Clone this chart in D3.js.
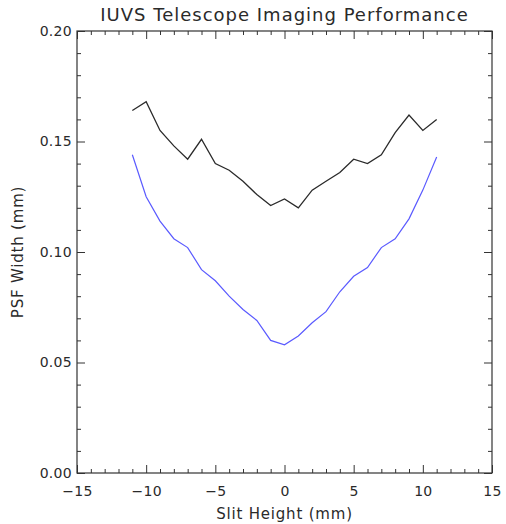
<!DOCTYPE html>
<html><head><meta charset="utf-8">
<script src="https://cdn.jsdelivr.net/npm/d3@7"></script>
<style>body{margin:0;background:#fff}svg{display:block}</style>
</head><body>
<script>
const slitHeight = [-11,-10,-9,-8,-7,-6,-5,-4,-3,-2,-1,0,1,2,3,4,5,6,7,8,9,10,11];
const blackSeries = [0.164,0.168,0.155,0.148,0.142,0.151,0.140,0.137,0.132,0.126,0.121,0.124,0.120,0.128,0.132,0.136,0.142,0.140,0.144,0.154,0.162,0.155,0.160];
const blueSeries = [0.144,0.125,0.114,0.106,0.102,0.092,0.087,0.080,0.074,0.069,0.060,0.058,0.062,0.068,0.073,0.082,0.089,0.093,0.102,0.106,0.115,0.128,0.143];
const xTicks = [-15,-10,-5,0,5,10,15];
const yTicks = [0.00,0.05,0.10,0.15,0.20];

const W=506,H=524;
const m={l:77,r:14,t:31,b:51};
const svg=d3.select("body").append("svg").attr("width",W).attr("height",H);
const x=d3.scaleLinear().domain([-15,15]).range([m.l,W-m.r]);
const y=d3.scaleLinear().domain([0,0.20]).range([H-m.b,m.t]);
const axisColor="#333";
const font="DejaVu Sans, sans-serif";
const textColor="#2a2a2a";

const g=svg.append("g");
const xMinor=d3.range(-15,16,1).filter(v=>v%5!==0);
const yMinor=d3.range(0,21,1).filter(v=>v%5!==0).map(v=>v/100);
function drawAxis(axis, translate){
  const a=g.append("g").attr("transform",translate).call(axis);
  a.select(".domain").remove();
  a.selectAll("line").attr("stroke",axisColor);
  return a;
}
// bottom
drawAxis(d3.axisBottom(x).tickValues(xTicks).tickSize(-8).tickFormat(d=>d<0?"\u2212"+Math.abs(d):d).tickPadding(13),`translate(0,${y(0)})`)
  .selectAll("text").attr("font-family",font).attr("font-size",14).attr("fill",textColor).attr("letter-spacing",0.3);
drawAxis(d3.axisBottom(x).tickValues(xMinor).tickSize(-4).tickFormat(""),`translate(0,${y(0)})`);
// top
drawAxis(d3.axisTop(x).tickValues(xTicks).tickSize(-8).tickFormat(""),`translate(0,${y(0.2)})`);
drawAxis(d3.axisTop(x).tickValues(xMinor).tickSize(-4).tickFormat(""),`translate(0,${y(0.2)})`);
// left
drawAxis(d3.axisLeft(y).tickValues(yTicks).tickSize(-8).tickFormat(d3.format(".2f")).tickPadding(5),`translate(${x(-15)},0)`)
  .selectAll("text").attr("font-family",font).attr("font-size",14).attr("fill",textColor).attr("letter-spacing",0.3);
drawAxis(d3.axisLeft(y).tickValues(yMinor).tickSize(-4).tickFormat(""),`translate(${x(-15)},0)`);
// right
drawAxis(d3.axisRight(y).tickValues(yTicks).tickSize(-8).tickFormat(""),`translate(${x(15)},0)`);
drawAxis(d3.axisRight(y).tickValues(yMinor).tickSize(-4).tickFormat(""),`translate(${x(15)},0)`);

// frame
g.append("rect").attr("x",x(-15)).attr("y",y(0.2)).attr("width",x(15)-x(-15)).attr("height",y(0)-y(0.2))
  .attr("fill","none").attr("stroke",axisColor).attr("stroke-width",1.2);

const line=d3.line().x((d,i)=>x(slitHeight[i])).y(d=>y(d));
svg.append("path").datum(blackSeries).attr("d",line).attr("fill","none").attr("stroke","#2a2a2a").attr("stroke-width",1.3);
svg.append("path").datum(blueSeries).attr("d",line).attr("fill","none").attr("stroke","#5a5aff").attr("stroke-width",1.2);

svg.append("text").attr("x",(x(-15)+x(15))/2).attr("y",21).attr("text-anchor","middle")
  .attr("font-family",font).attr("font-size",18).attr("letter-spacing",1).attr("fill",textColor).text("IUVS Telescope Imaging Performance");
svg.append("text").attr("x",(x(-15)+x(15))/2).attr("y",519).attr("text-anchor","middle")
  .attr("font-family",font).attr("font-size",15).attr("letter-spacing",0.8).attr("fill",textColor).text("Slit Height (mm)");
svg.append("text").attr("transform",`translate(23,${(y(0)+y(0.2))/2}) rotate(-90)`).attr("text-anchor","middle")
  .attr("font-family",font).attr("font-size",15).attr("letter-spacing",0.8).attr("fill",textColor).text("PSF Width (mm)");
</script>
</body></html>
